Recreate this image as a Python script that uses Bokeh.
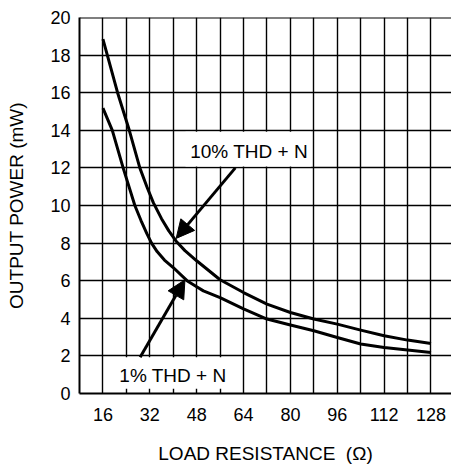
from bokeh.plotting import figure
from bokeh.models import FixedTicker, Span, Arrow, NormalHead, Range1d
from bokeh.core.properties import value
from bokeh.embed import file_html
from bokeh.resources import INLINE

# data
x_10 = [16, 21, 25, 28.6, 31, 33.2, 36, 38.5, 41, 44, 48, 56, 64, 72, 80, 88, 96, 104, 112, 120, 128]
p_10 = [18.85, 16.0, 14.0, 12.0, 11.0, 10.15, 9.3, 8.65, 8.1, 7.6, 7.06, 6.05, 5.37, 4.75, 4.31, 3.96, 3.69, 3.37, 3.07, 2.84, 2.66]
x_1 = [16, 19.2, 22.9, 26.9, 29, 31, 32.6, 34.5, 37, 40, 44.7, 48, 50.3, 56, 64, 72, 80, 88, 96, 104, 112, 120, 128]
p_1 = [15.18, 14.0, 12.0, 10.0, 9.2, 8.5, 8.0, 7.55, 7.1, 6.7, 6.0, 5.68, 5.46, 5.1, 4.5, 3.96, 3.64, 3.34, 2.98, 2.63, 2.45, 2.31, 2.18]
x_ticks = [16, 32, 48, 64, 80, 96, 112, 128]
x_grid = [16, 24, 32, 40, 48, 56, 64, 72, 80, 88, 96, 104, 112, 120, 128]
y_ticks = [0, 2, 4, 6, 8, 10, 12, 14, 16, 18, 20]
label_10 = "10% THD + N"
label_1 = "1% THD + N"

FONT = "Liberation Sans"

p = figure(width=451, height=468, output_backend="svg", toolbar_location=None,
           x_range=Range1d(8, 135), y_range=Range1d(0, 20),
           min_border_left=79, min_border_right=0, min_border_top=17, min_border_bottom=75)
p.outline_line_color = None
p.background_fill_color = "white"
p.border_fill_color = "white"

# grid
p.xgrid.ticker = FixedTicker(ticks=x_grid)
p.ygrid.ticker = FixedTicker(ticks=y_ticks)
for g in (p.xgrid, p.ygrid):
    g.grid_line_color = "black"
    g.grid_line_width = 1.4
    g.grid_line_alpha = 1.0

p.add_layout(Span(location=20, dimension="width", line_color="black", line_width=2))

# axes
p.xaxis.ticker = FixedTicker(ticks=x_ticks)
p.yaxis.ticker = FixedTicker(ticks=y_ticks)
for ax in (p.xaxis, p.yaxis):
    ax.axis_line_color = "black"
    ax.axis_line_width = 2
    ax.major_tick_out = 0
    ax.major_tick_in = 0
    ax.minor_tick_out = 0
    ax.minor_tick_in = 0
    ax.major_label_text_font = FONT
    ax.major_label_text_font_size = "18px"
    ax.major_label_text_color = "black"
    ax.axis_label_text_font = FONT
    ax.axis_label_text_font_size = "19px"
    ax.axis_label_text_font_style = "normal"
    ax.axis_label_text_color = "black"
p.xaxis.axis_label = "LOAD RESISTANCE \u00a0(\u03a9)"
p.yaxis.axis_label = "OUTPUT POWER (mW)"
p.xaxis.major_label_standoff = 14
p.xaxis.axis_label_standoff = 19
p.yaxis.major_label_standoff = 9
p.yaxis.axis_label_standoff = 20

# white label boxes over the grid
p.quad(left=[44.2], right=[87.0], bottom=[12.08], top=[13.92], fill_color="white", line_color=None)
p.quad(left=[19.4], right=[60.0], bottom=[0.25], top=[1.93], fill_color="white", line_color=None)

# curves
p.line(x_10, p_10, line_color="black", line_width=3, line_join="round")
p.line(x_1, p_1, line_color="black", line_width=3, line_join="round")

# labels
p.text(x=[45.8], y=[12.85], text=[label_10], text_font=value(FONT), text_font_size="19px",
       text_baseline="middle", text_align="left", text_color="black")
p.text(x=[21.6], y=[0.98], text=[label_1], text_font=value(FONT), text_font_size="19px",
       text_baseline="middle", text_align="left", text_color="black")

# arrows
p.add_layout(Arrow(end=NormalHead(size=18, fill_color="black", line_color="black"),
                   x_start=61.2, y_start=12.0, x_end=41.0, y_end=8.25,
                   line_color="black", line_width=3))
p.add_layout(Arrow(end=NormalHead(size=18, fill_color="black", line_color="black"),
                   x_start=28.7, y_start=1.93, x_end=44.0, y_end=6.05,
                   line_color="black", line_width=3))

open("out.html", "w").write(file_html(p, INLINE))
